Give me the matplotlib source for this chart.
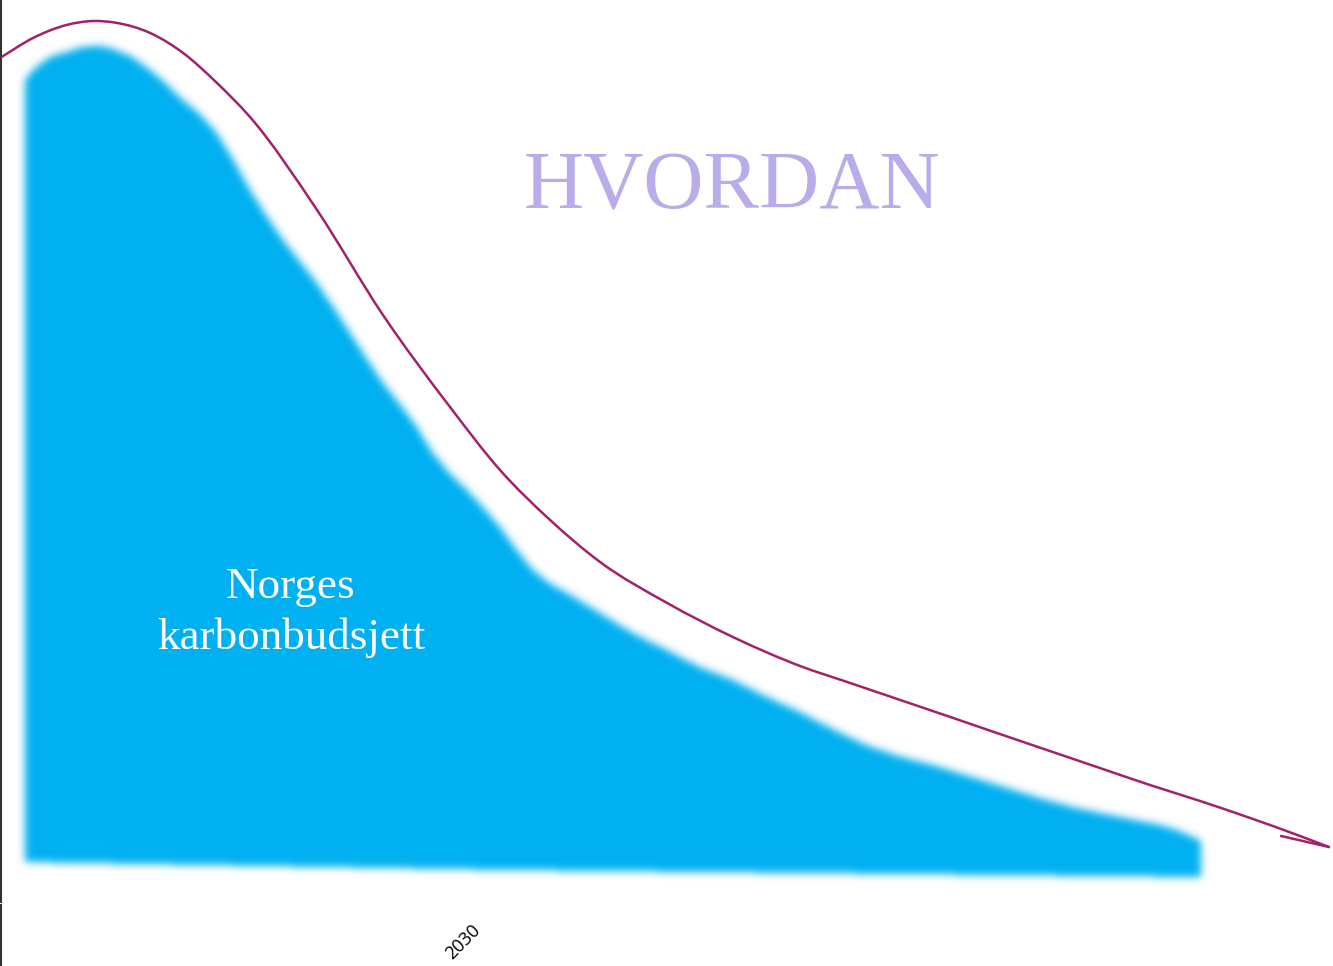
import numpy as np
import matplotlib
matplotlib.use("Agg")
import matplotlib.pyplot as plt
from matplotlib.path import Path
from matplotlib.patches import PathPatch
from matplotlib.lines import Line2D
from matplotlib.transforms import ScaledTranslation

# ---- data (years, Mt CO2e) ----
path_years = [2019.423, 2020.185, 2020.970, 2021.570, 2022.125, 2022.887, 2023.649, 2024.434,
              2025.196, 2026.744, 2028.268, 2029.815, 2030.970, 2032.125, 2033.279,
              2034.827, 2036.351, 2037.898, 2039.053, 2040.208, 2041.363, 2042.517,
              2043.672, 2044.827, 2045.982, 2047.136, 2048.291, 2049.446, 2050.115]
path_values = [48.20, 49.34, 50.09, 50.31, 50.20, 49.63, 48.49, 46.77,
               44.83, 39.52, 33.52, 28.27, 24.67, 21.82, 19.42,
               17.08, 15.13, 13.48, 12.51, 11.54, 10.57, 9.59,
               8.62, 7.65, 6.68, 5.77, 4.80, 3.77, 3.14]
hook_years = [2050.115, 2049.008]
hook_values = [3.14, 3.77]

budget_years = [2020.00, 2020.23, 2020.97, 2021.66, 2022.03, 2022.89, 2023.65, 2024.43,
                2025.20, 2025.96, 2026.74, 2027.51, 2028.27, 2029.05, 2029.42, 2030.21,
                2030.97, 2031.73, 2032.52, 2033.28, 2034.04, 2034.83, 2035.59, 2036.35,
                2037.14, 2037.90, 2039.47, 2041.04, 2042.61, 2044.18, 2045.75, 2046.54,
                2047.16]
budget_top = [46.94, 47.63, 48.54, 48.89, 48.72, 47.52, 45.80, 43.92,
              40.66, 37.81, 35.35, 32.50, 29.64, 27.13, 25.64, 23.53,
              21.42, 18.96, 17.65, 16.51, 15.36, 14.39, 13.42, 12.68,
              11.71, 10.85, 8.91, 7.77, 6.57, 5.43, 4.63, 4.17,
              3.48]
budget_bottom_years = [2047.16, 2031.00, 2020.00]
budget_bottom = [1.43, 1.83, 2.28]

tick_years = [2030]
tick_labels = ["2030"]

title_text = "HVORDAN"
label_lines = ["Norges", "karbonbudsjett"]


def smooth_path(xs, ys):
    """Cubic Hermite curve y(x) through the points (non-uniform 3-point tangents),
    expressed as cubic Bezier segments."""
    x = np.asarray(xs, float)
    y = np.asarray(ys, float)
    h = np.diff(x)
    d = np.diff(y) / h
    m = np.empty_like(y)
    m[0], m[-1] = d[0], d[-1]
    m[1:-1] = (d[1:] * h[:-1] + d[:-1] * h[1:]) / (h[:-1] + h[1:])
    verts = [(x[0], y[0])]
    codes = [Path.MOVETO]
    for i in range(len(x) - 1):
        verts += [(x[i] + h[i] / 3, y[i] + m[i] * h[i] / 3),
                  (x[i + 1] - h[i] / 3, y[i + 1] - m[i + 1] * h[i] / 3),
                  (x[i + 1], y[i + 1])]
        codes += [Path.CURVE4] * 3
    return verts, codes


# ---- figure ----
W, H = 1333, 966
fig = plt.figure(figsize=(W / 100, H / 100), dpi=100)
fig.patch.set_facecolor("white")
ax_h = 902
ax = fig.add_axes([1 / W, (H - ax_h) / H, (W - 1) / W, ax_h / H])
xlim = (2019.446, 2050.208)
ylim = (0, 51.51)
ax.set_xlim(*xlim)
ax.set_ylim(*ylim)

# blurred budget area, rasterised from the (smoothed) polygon in data space
tv, tc = smooth_path(budget_years, budget_top)
bv = list(zip(budget_bottom_years, budget_bottom))
verts = tv + bv + [tv[0]]
codes = tc + [Path.LINETO] * len(bv) + [Path.CLOSEPOLY]
poly = Path(verts, codes)
nx, ny = W - 1, ax_h
xs = np.linspace(xlim[0], xlim[1], nx, endpoint=False) + (xlim[1] - xlim[0]) / nx / 2
ys = np.linspace(ylim[0], ylim[1], ny, endpoint=False) + (ylim[1] - ylim[0]) / ny / 2
gx, gy = np.meshgrid(xs, ys)
mask = poly.contains_points(np.column_stack([gx.ravel(), gy.ravel()])).reshape(ny, nx).astype(float)
sigma = 4.0
k = np.arange(-14, 15)
kern = np.exp(-k ** 2 / (2 * sigma ** 2))
kern /= kern.sum()
mask = np.apply_along_axis(lambda r: np.convolve(r, kern, mode="same"), 1, mask)
mask = np.apply_along_axis(lambda c: np.convolve(c, kern, mode="same"), 0, mask)
rgba = np.zeros((ny, nx, 4))
rgba[..., 0] = 0 / 255
rgba[..., 1] = 176 / 255
rgba[..., 2] = 240 / 255
rgba[..., 3] = np.clip(mask, 0, 1)
ax.imshow(rgba, extent=(xlim[0], xlim[1], ylim[0], ylim[1]), origin="lower",
          aspect="auto", interpolation="nearest", zorder=1)

# emissions path (smooth) + hook
pv, pc = smooth_path(path_years, path_values)
ax.add_patch(PathPatch(Path(pv, pc), fill=False, edgecolor="#a3216b", lw=1.8,
                       capstyle="round", joinstyle="round", zorder=3))
ax.plot(hook_years, hook_values, color="#a3216b", lw=1.8, solid_capstyle="round",
        solid_joinstyle="miter", zorder=3)

# texts
ax.text(2036.33, 39.63, title_text, ha="center", va="baseline",
        family="Liberation Serif", fontsize=60, color="#b9ace9", zorder=4)
label_x = 2026.14
label_y = [17.34, 14.45]
for line, yv in zip(label_lines, label_y):
    ax.text(label_x, yv, line, ha="center", va="baseline",
            family="Liberation Serif", fontsize=32.5, color="white", zorder=4)

# axes styling
for s in ["top", "right", "bottom"]:
    ax.spines[s].set_visible(False)
ax.spines["left"].set_color("#33332b")
ax.spines["left"].set_linewidth(1.5)
ax.set_yticks([])
ax.set_xticks(tick_years)
ax.set_xticklabels(tick_labels, rotation=45, ha="center", family="Open Sans", fontsize=13)
ax.tick_params(axis="x", length=0, pad=14)
for lab in ax.get_xticklabels():
    lab.set_transform(lab.get_transform() + ScaledTranslation(5 / 100, 0, fig.dpi_scale_trans))
ax.set_facecolor("white")

# lower spine continuation below the axes
fig.add_artist(Line2D([1 / W, 1 / W], [0, (H - 905) / H], transform=fig.transFigure,
                      color="#33332b", lw=1.5))

fig.savefig("out.png", dpi=100, facecolor="white")
